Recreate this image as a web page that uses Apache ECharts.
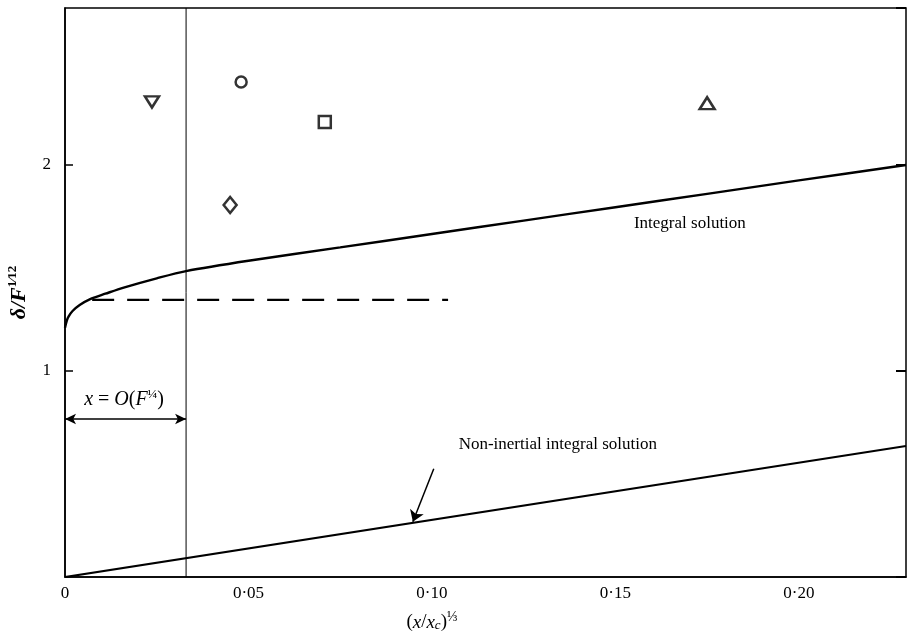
<!DOCTYPE html>
<html><head><meta charset="utf-8">
<script src="https://cdn.jsdelivr.net/npm/echarts@6/dist/echarts.min.js"></script>
<style>html,body{margin:0;padding:0;background:#fff}#c{width:908px;height:638px}</style>
</head><body><div id="c"></div>
<script>
// ---- data ----
const xTicks = [0, 0.05, 0.10, 0.15, 0.20];
const yTicks = [1, 2];
const integralX = [0, 0.0005, 0.001, 0.002, 0.004, 0.007, 0.011, 0.016, 0.025, 0.033, 0.05, 0.075, 0.1, 0.125, 0.15, 0.175, 0.2, 0.2292];
const integralY = [1.21, 1.245, 1.265, 1.29, 1.32, 1.35, 1.375, 1.405, 1.45, 1.485, 1.535, 1.60, 1.665, 1.73, 1.795, 1.86, 1.925, 2.0];
const nonInertialX = [0, 0.2292];
const nonInertialY = [0, 0.636];
const dashedX = [0.0074, 0.1044];
const dashedY = [1.345, 1.345];
const markers = [
  {name: 'down', x: 0.0237, y: 2.306},
  {name: 'circle', x: 0.048, y: 2.403},
  {name: 'square', x: 0.0708, y: 2.209},
  {name: 'diamond', x: 0.045, y: 1.806},
  {name: 'up', x: 0.175, y: 2.30}
];
const regionX = 0.033;
const regionArrowY = 0.767;
const labels = {
  integral: {text: 'Integral solution', x: 0.1703, y: 1.714},
  nonInertial: {text: 'Non-inertial integral solution', x: 0.1343, y: 0.641},
  region: {x: 0.0161, y: 0.865},
  xTitle: {x: 0.1}
};
const pointerFrom = [0.1005, 0.525];
const pointerTo = [0.0948, 0.268];

const XMIN = 0, XMAX = 0.2292, YMIN = 0, YMAX = 2.762;
const FONT = '"Liberation Serif", "Times New Roman", serif';

function zip(a, b) { return a.map((v, i) => [v, b[i]]); }
function fmt(v) { return v === 0 ? '0' : v.toFixed(2).replace('.', '\u00b7'); }

const symbolMap = {
  down: ['triangle', 180], circle: ['circle', 0], square: ['rect', 0],
  diamond: ['diamond', 0], up: ['triangle', 0]
};
const symbolSizeMap = {down: [14, 11], circle: [11, 11], square: [12, 12], diamond: [13, 16], up: [15, 12]};

const chart = echarts.init(document.getElementById('c'), null, {renderer: 'canvas'});

const markerSeries = markers.map(m => ({
  type: 'scatter',
  data: [[m.x, m.y]],
  symbol: symbolMap[m.name][0],
  symbolRotate: symbolMap[m.name][1],
  symbolSize: symbolSizeMap[m.name],
  itemStyle: {color: '#fff', borderColor: '#000', borderWidth: 2.5},
  z: 5
}));

const option = {
  animation: false,
  backgroundColor: '#fff',
  grid: {left: 65, right: 2, top: 8, bottom: 61, show: true, borderColor: '#000', borderWidth: 1.5,
         backgroundColor: 'transparent', containLabel: false, outerBoundsMode: 'none'},
  xAxis: {
    type: 'value', min: XMIN, max: XMAX, interval: 0.05,
    axisLine: {show: true, lineStyle: {color: '#000', width: 1.5}},
    axisTick: {show: false},
    splitLine: {show: false},
    axisLabel: {
      color: '#000', fontFamily: FONT, fontSize: 17, margin: 8,
      showMaxLabel: false,
      formatter: v => xTicks.some(t => Math.abs(t - v) < 1e-9) ? fmt(v) : ''
    }
  },
  yAxis: [{
    type: 'value', min: YMIN, max: YMAX, interval: 1,
    axisLine: {show: true, lineStyle: {color: '#000', width: 1.5}},
    axisTick: {show: true, inside: true, length: 8, lineStyle: {color: '#000', width: 1.5}},
    splitLine: {show: false},
    axisLabel: {
      color: '#000', fontFamily: FONT, fontSize: 17, margin: 14,
      showMinLabel: false, showMaxLabel: false,
      formatter: v => yTicks.indexOf(v) >= 0 ? String(v) : ''
    },
    name: '{i|\u03b4/F}{sup|1\u204412}',
    nameLocation: 'middle', nameGap: 35, nameRotate: 90,
    nameTextStyle: {
      rich: {
        i: {fontFamily: FONT, fontSize: 22, fontStyle: 'italic', fontWeight: 'bold', color: '#000', verticalAlign: 'bottom', lineHeight: 24},
        sup: {fontFamily: FONT, fontSize: 13, fontWeight: 'bold', color: '#000', verticalAlign: 'top', lineHeight: 13}
      }
    }
  }, {
    type: 'value', min: YMIN, max: YMAX, interval: 1, position: 'right',
    axisLine: {show: false},
    axisTick: {show: true, inside: true, length: 10, lineStyle: {color: '#000', width: 2}},
    axisLabel: {show: false}, splitLine: {show: false}
  }],
  series: [
    {
      type: 'line', data: zip(integralX, integralY), smooth: 0.3, symbol: 'none',
      lineStyle: {color: '#000', width: 2.4}, z: 3
    },
    {
      type: 'line', data: zip(nonInertialX, nonInertialY), symbol: 'none',
      lineStyle: {color: '#000', width: 2.2}, z: 3,
      markLine: {
        silent: true, symbol: ['none', 'arrow'], symbolSize: 11, label: {show: false},
        lineStyle: {color: '#000', width: 1.5, type: 'solid'},
        data: [[{coord: pointerFrom}, {coord: pointerTo}]]
      }
    },
    {
      type: 'line', data: zip(dashedX, dashedY), symbol: 'none',
      lineStyle: {color: '#000', width: 2.2, type: [22, 13]}, z: 3
    },
    {
      type: 'line', data: [[regionX, YMIN], [regionX, YMAX]], symbol: 'none',
      lineStyle: {color: '#000', width: 1}, z: 2
    },
    {
      type: 'line', data: [], symbol: 'none',
      markLine: {
        silent: true, symbol: ['arrow', 'arrow'], symbolSize: [8, 11], label: {show: false},
        lineStyle: {color: '#000', width: 1.5, type: 'solid'},
        data: [[{coord: [0, regionArrowY]}, {coord: [regionX, regionArrowY]}]]
      }
    }
  ].concat(markerSeries)
};
chart.setOption(option);

const p1 = chart.convertToPixel({gridIndex: 0}, [labels.integral.x, labels.integral.y]);
const p2 = chart.convertToPixel({gridIndex: 0}, [labels.nonInertial.x, labels.nonInertial.y]);
const p3 = chart.convertToPixel({gridIndex: 0}, [labels.region.x, labels.region.y]);
const px = chart.convertToPixel({gridIndex: 0}, [labels.xTitle.x, 0]);
chart.setOption({
  graphic: [
    {type: 'text', x: p1[0], y: p1[1], style: {text: labels.integral.text, font: '17px ' + FONT, fill: '#000', align: 'center', verticalAlign: 'middle'}},
    {type: 'text', x: p2[0], y: p2[1], style: {text: labels.nonInertial.text, font: '17px ' + FONT, fill: '#000', align: 'center', verticalAlign: 'middle'}},
    {type: 'text', x: p3[0], y: p3[1], style: {
      text: '{i|x}{p| = }{i|O}{p|(}{i|F}{s|\u00bc}{p|)}', align: 'center', verticalAlign: 'middle',
      rich: {
        i: {fontFamily: FONT, fontSize: 20, fontStyle: 'italic', fill: '#000', verticalAlign: 'bottom', lineHeight: 22},
        p: {fontFamily: FONT, fontSize: 20, fill: '#000', verticalAlign: 'bottom', lineHeight: 22},
        s: {fontFamily: FONT, fontSize: 13, fill: '#000', verticalAlign: 'top', lineHeight: 13}
      }
    }},
    {type: 'text', x: px[0], y: px[1] + 44, style: {
      text: '{p|(}{i|x}{p|/}{i|x}{sub|c}{p|)}{sup|\u2153}', align: 'center', verticalAlign: 'middle',
      rich: {
        p: {fontFamily: FONT, fontSize: 19, fill: '#000', verticalAlign: 'bottom', lineHeight: 22},
        i: {fontFamily: FONT, fontSize: 19, fontStyle: 'italic', fill: '#000', verticalAlign: 'bottom', lineHeight: 22},
        sub: {fontFamily: FONT, fontSize: 13, fontStyle: 'italic', fill: '#000', verticalAlign: 'bottom', lineHeight: 16},
        sup: {fontFamily: FONT, fontSize: 14, fill: '#000', verticalAlign: 'top', lineHeight: 13}
      }
    }}
  ]
});
</script></body></html>
